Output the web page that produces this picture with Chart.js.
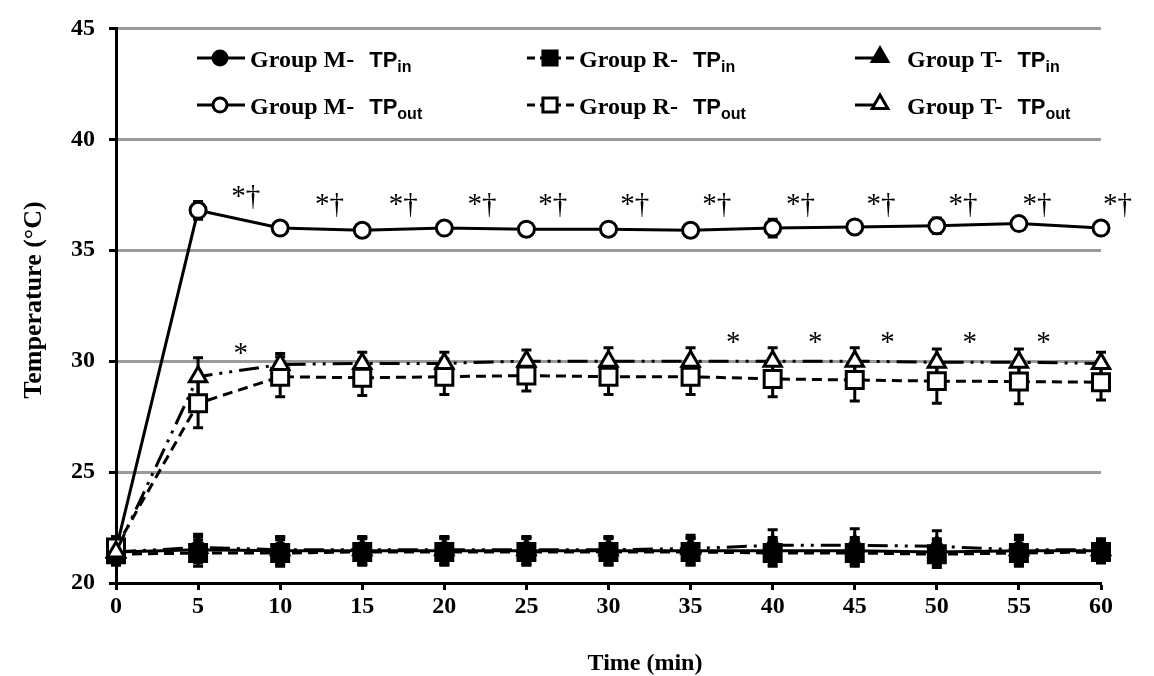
<!DOCTYPE html>
<html>
<head>
<meta charset="utf-8">
<script src="https://cdn.jsdelivr.net/npm/chart.js@4"></script>
<style>
  html, body { margin: 0; padding: 0; background: #fff; }
  #wrap { width: 1154px; height: 676px; }
</style>
</head>
<body>
<div id="wrap"><canvas id="tempChart" width="1154" height="676"></canvas></div>
<script>
// time points (min)
const times = [0, 5, 10, 15, 20, 25, 30, 35, 40, 45, 50, 55, 60];

// mean temperatures
const mIn  = [21.4, 21.5, 21.45, 21.45, 21.45, 21.45, 21.45, 21.45, 21.45, 21.45, 21.4, 21.45, 21.45];
const rIn  = [21.3, 21.35, 21.35, 21.4, 21.4, 21.4, 21.4, 21.4, 21.35, 21.35, 21.3, 21.35, 21.4];
const tIn  = [21.4, 21.6, 21.5, 21.5, 21.5, 21.5, 21.5, 21.55, 21.7, 21.7, 21.65, 21.5, 21.5];
const mOut = [21.5, 36.8, 36.0, 35.9, 36.0, 35.95, 35.95, 35.9, 36.0, 36.05, 36.1, 36.2, 36.0];
const rOut = [21.6, 28.1, 29.3, 29.25, 29.3, 29.35, 29.3, 29.3, 29.2, 29.15, 29.1, 29.08, 29.05];
const tOut = [21.4, 29.3, 29.85, 29.9, 29.9, 30.0, 30.0, 30.0, 30.0, 30.0, 29.95, 29.95, 29.9];

// standard deviations (error bars)
const mInSd  = [0.5, 0.6, 0.6, 0.6, 0.6, 0.6, 0.6, 0.6, 0.6, 0.6, 0.6, 0.6, 0.5];
const rInSd  = [0.5, 0.6, 0.6, 0.6, 0.6, 0.6, 0.6, 0.6, 0.6, 0.6, 0.6, 0.6, 0.5];
const tInSd  = [0.4, 0.6, 0.6, 0.6, 0.6, 0.6, 0.6, 0.6, 0.7, 0.75, 0.7, 0.65, 0.5];
const mOutSd = [0.3, 0.4, 0.2, 0.2, 0.2, 0.2, 0.2, 0.2, 0.4, 0.2, 0.35, 0.2, 0.2];
const rOutSd = [0.5, 1.1, 0.9, 0.8, 0.8, 0.7, 0.8, 0.8, 0.8, 0.95, 1.0, 1.0, 0.8];
const tOutSd = [0.3, 0.85, 0.5, 0.5, 0.5, 0.5, 0.6, 0.6, 0.6, 0.6, 0.6, 0.6, 0.5];

// significance marks (x in min, y in °C)
const daggerX = [7.9, 13.0, 17.5, 22.3, 26.6, 31.6, 36.6, 41.7, 46.6, 51.6, 56.1, 61.0];
const daggerY = [37.4, 37.0, 37.0, 37.0, 37.0, 37.0, 37.0, 37.0, 37.0, 37.0, 37.0, 37.0];
const starX = [7.6, 37.6, 42.6, 47.0, 52.0, 56.5];
const starY = [30.3, 30.8, 30.8, 30.8, 30.8, 30.8];

// legend text
const groupNames = ['Group M-', 'Group R-', 'Group T-'];
const tpSubs = ['in', 'out'];

const serif = '"Liberation Serif", "Times New Roman", serif';
const sans = '"Liberation Sans", Arial, sans-serif';

const dashM = [];
const dashR = [10, 6];
const dashT = [20, 7, 3, 7, 3, 7];

function series(label, values, sd, style, radius, filled, dash) {
  return {
    label: label,
    data: values.map((v, i) => ({ x: times[i], y: v })),
    sd: sd,
    borderColor: '#000',
    borderWidth: 3,
    borderDash: dash,
    pointStyle: style,
    pointRadius: radius,
    pointBorderWidth: 3,
    pointBorderColor: '#000',
    pointBackgroundColor: filled ? '#000' : '#fff',
    clip: false,
    tension: 0
  };
}

// first dataset is painted on top
const datasets = [
  series('Group T- TPout', tOut, tOutSd, 'triangle', 10, false, dashT),
  series('Group R- TPout', rOut, rOutSd, 'rect', 12, false, dashR),
  series('Group M- TPout', mOut, mOutSd, 'circle', 8, false, dashM),
  series('Group T- TPin', tIn, tInSd, 'triangle', 10, true, dashT),
  series('Group R- TPin', rIn, rInSd, 'rect', 12, true, dashR),
  series('Group M- TPin', mIn, mInSd, 'circle', 8, true, dashM)
];

const errorBars = {
  id: 'errorBars',
  beforeDatasetsDraw(chart) {
    const ctx = chart.ctx;
    const xs = chart.scales.x, ys = chart.scales.y;
    ctx.save();
    ctx.strokeStyle = '#000';
    ctx.lineWidth = 3;
    chart.data.datasets.forEach(ds => {
      ds.data.forEach((p, i) => {
        const x = xs.getPixelForValue(p.x);
        const top = ys.getPixelForValue(p.y + ds.sd[i]);
        const bot = ys.getPixelForValue(p.y - ds.sd[i]);
        ctx.beginPath();
        ctx.moveTo(x, top); ctx.lineTo(x, bot);
        ctx.moveTo(x - 5, top); ctx.lineTo(x + 5, top);
        ctx.moveTo(x - 5, bot); ctx.lineTo(x + 5, bot);
        ctx.stroke();
      });
    });
    ctx.restore();
  }
};

const extras = {
  id: 'extras',
  afterDraw(chart) {
    const ctx = chart.ctx;
    const xs = chart.scales.x, ys = chart.scales.y;
    ctx.save();
    ctx.fillStyle = '#000';

    // significance marks
    ctx.font = '29px ' + serif;
    ctx.textAlign = 'center';
    ctx.textBaseline = 'middle';
    daggerX.forEach((t, i) => ctx.fillText('*\u2020', xs.getPixelForValue(t), ys.getPixelForValue(daggerY[i])));
    starX.forEach((t, i) => ctx.fillText('*', xs.getPixelForValue(t), ys.getPixelForValue(starY[i])));

    // axis titles
    ctx.font = 'bold 24px ' + serif;
    ctx.fillText('Time (min)', 645, 664);
    ctx.save();
    ctx.translate(34, 300);
    ctx.rotate(-Math.PI / 2);
    ctx.font = 'bold 26px ' + serif;
    ctx.fillText('Temperature (\u00B0C)', 0, 0);
    ctx.restore();

    // legend
    const cols = [
      { line: [197, 245], mark: 220, text: 250, style: 'circle', r: 7, dash: dashM },
      { line: [527, 574], mark: 550, text: 579, style: 'rect', r: 10, dash: [8, 5] },
      { line: [855, 880], mark: 880, text: 907, style: 'triangle', r: 9, dash: dashM }
    ];
    const rows = [58, 105];
    ctx.textAlign = 'left';
    ctx.textBaseline = 'alphabetic';
    rows.forEach((ry, ri) => {
      cols.forEach((c, ci) => {
        ctx.strokeStyle = '#000';
        ctx.lineWidth = 3;
        ctx.setLineDash(c.dash);
        ctx.beginPath();
        ctx.moveTo(c.line[0], ry); ctx.lineTo(c.line[1], ry);
        ctx.stroke();
        ctx.setLineDash([]);
        ctx.fillStyle = ri === 0 ? '#000' : '#fff';
        Chart.helpers.drawPoint(ctx, { pointStyle: c.style, radius: c.r, borderWidth: 3, rotation: 0 }, c.mark, ci === 2 ? ry - 1 : ry);
        ctx.fillStyle = '#000';
        ctx.font = 'bold 24px ' + serif;
        ctx.fillText(groupNames[ci], c.text, ry + 9);
        let x = c.text + ctx.measureText(groupNames[ci]).width + 15;
        ctx.font = 'bold 22px ' + sans;
        ctx.fillText('TP', x, ry + 9);
        x += ctx.measureText('TP').width;
        ctx.font = 'bold 16px ' + sans;
        ctx.fillText(tpSubs[ri], x, ry + 14);
      });
    });
    ctx.restore();
  }
};

const bgWhite = {
  id: 'bgWhite',
  beforeDraw(chart) {
    const ctx = chart.ctx;
    ctx.save();
    ctx.fillStyle = '#fff';
    ctx.fillRect(0, 0, chart.width, chart.height);
    ctx.restore();
  }
};

new Chart(document.getElementById('tempChart'), {
  type: 'line',
  data: { datasets: datasets },
  options: {
    responsive: false,
    animation: false,
    layout: { padding: { top: 24, right: 53, left: 0, bottom: 0 } },
    plugins: { legend: { display: false }, tooltip: { enabled: false } },
    scales: {
      x: {
        type: 'linear',
        min: 0, max: 60,
        afterFit(scale) { scale.height = 93; },
        ticks: { stepSize: 5, color: '#000', padding: 2, font: { family: serif, size: 24, weight: 'bold' } },
        grid: { drawOnChartArea: false, drawTicks: true, tickLength: 7, tickColor: '#000', tickWidth: 3 },
        border: { display: true, color: '#000', width: 3 }
      },
      y: {
        min: 20, max: 45,
        afterFit(scale) { scale.width = 116; },
        ticks: { stepSize: 5, color: '#000', padding: 14, font: { family: serif, size: 24, weight: 'bold' } },
        grid: {
          color: c => (c.tick && c.tick.value === 20) ? 'rgba(0,0,0,0)' : '#9a9a9a',
          lineWidth: 3,
          drawTicks: true, tickLength: 7, tickColor: '#000', tickWidth: 3
        },
        border: { display: true, color: '#000', width: 3 }
      }
    }
  },
  plugins: [bgWhite, errorBars, extras]
});
</script>
</body>
</html>
